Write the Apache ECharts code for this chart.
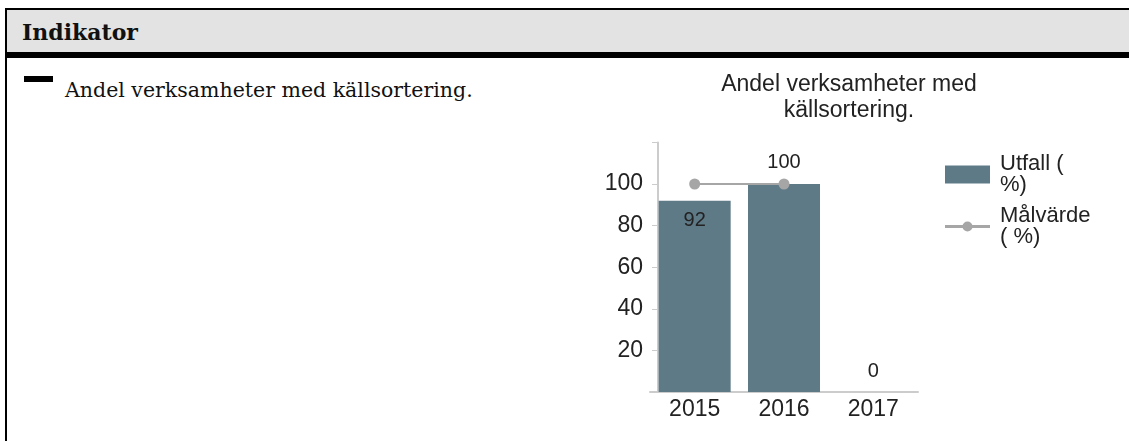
<!DOCTYPE html>
<html>
<head>
<meta charset="utf-8">
<script src="https://cdn.jsdelivr.net/npm/echarts@6/dist/echarts.min.js"></script>
<style>
  html, body { margin: 0; padding: 0; background: #fff; width: 1129px; height: 441px; overflow: hidden; }
  .frame-top { position: absolute; left: 5px; top: 8px; width: 1124px; height: 2px; background: #000; }
  .frame-left { position: absolute; left: 5px; top: 8px; width: 2px; height: 433px; background: #000; }
  .head { position: absolute; left: 7px; top: 10px; width: 1122px; height: 42px; background: #e3e3e3; }
  .head-rule { position: absolute; left: 5px; top: 52px; width: 1124px; height: 6px; background: #000; }
  .head-text { position: absolute; left: 22px; top: 18px; font: bold 22px Georgia, "DejaVu Serif", serif; color: #111; line-height: 28px; }
  .dash { position: absolute; left: 24px; top: 76px; width: 29px; height: 6px; background: #000; }
  .ind-text { position: absolute; left: 65px; top: 77px; font: 20.5px Georgia, "DejaVu Serif", serif; color: #111; line-height: 26px; white-space: nowrap; }
  #chart { position: absolute; left: 0; top: 0; width: 1129px; height: 441px; }
</style>
</head>
<body>
<div class="frame-top"></div>
<div class="frame-left"></div>
<div class="head"></div>
<div class="head-rule"></div>
<div class="head-text">Indikator</div>
<div class="dash"></div>
<div class="ind-text">Andel verksamheter med källsortering.</div>
<div id="chart"></div>
<script>
// Indicator data
const chartTitle = 'Andel verksamheter med\nkällsortering.';
const years = ['2015', '2016', '2017'];
const utfall = [92, 100, 0];          // Utfall (%)
const malvarde = [100, 100, '-'];     // Målvärde (%)
const seriesNames = ['Utfall ( %)', 'Målvärde ( %)'];
const legendLabels = { 'Utfall ( %)': 'Utfall (\n%)', 'Målvärde ( %)': 'Målvärde\n( %)' };

const FONT = '"Liberation Sans", Arial, sans-serif';
const barColor = '#5f7a87';
const lineColor = '#a6a6a6';
const textColor = '#222';

// legend glyph for the target line: stroke with a dot in the middle
const lineIcon = 'path://M0,7.5L45,7.5L45,10.5L0,10.5Z M17.5,9A5,5 0 1,1 27.5,9A5,5 0 1,1 17.5,9Z';

// per-bar label placement
const barLabelPos = [
  { position: 'insideTop', distance: 10 },
  { position: 'top', distance: 12 },
  { position: 'top', distance: 11 }
];

const chart = echarts.init(document.getElementById('chart'), null, { renderer: 'canvas' });

chart.setOption({
  backgroundColor: 'transparent',
  animation: false,
  graphic: [{
    type: 'text',
    x: 849,
    y: 98,
    style: {
      text: chartTitle,
      textAlign: 'center',
      textVerticalAlign: 'middle',
      fontFamily: FONT,
      fontSize: 23,
      lineHeight: 26,
      fill: textColor
    }
  }],
  legend: {
    orient: 'vertical',
    left: 940,
    top: 148,
    itemWidth: 45,
    itemHeight: 18,
    itemGap: 9,
    symbolKeepAspect: true,
    data: [
      { name: seriesNames[0], icon: 'rect' },
      { name: seriesNames[1], icon: lineIcon }
    ],
    formatter: name => legendLabels[name] || name,
    textStyle: {
      fontFamily: FONT,
      fontSize: 22,
      lineHeight: 21,
      color: textColor,
      padding: [0, 0, 0, 5]
    }
  },
  grid: {
    left: 650,
    right: 211,
    top: 142.4,
    bottom: 49,
    containLabel: false
  },
  xAxis: {
    type: 'category',
    data: years,
    axisLine: { lineStyle: { color: '#cccccc', width: 2 } },
    axisTick: { show: false },
    axisLabel: { fontFamily: FONT, fontSize: 23, color: textColor, margin: 6 }
  },
  yAxis: {
    type: 'value',
    min: 0,
    max: 120,
    interval: 20,
    offset: -8,
    axisLine: { show: true, lineStyle: { color: '#cccccc', width: 2 } },
    axisTick: { show: true, length: 6, lineStyle: { color: '#cccccc', width: 1 } },
    splitLine: { show: false },
    axisLabel: {
      fontFamily: FONT,
      fontSize: 23,
      color: textColor,
      margin: 15,
      formatter: v => (v === 0 || v === 120) ? '' : String(v)
    }
  },
  series: [
    {
      name: seriesNames[0],
      type: 'bar',
      barWidth: 72,
      itemStyle: { color: barColor },
      data: utfall.map((v, i) => ({
        value: v,
        label: {
          show: true,
          position: barLabelPos[i].position,
          distance: barLabelPos[i].distance,
          fontFamily: FONT,
          fontSize: 20,
          color: textColor
        }
      }))
    },
    {
      name: seriesNames[1],
      type: 'line',
      data: malvarde,
      symbol: 'circle',
      symbolSize: 11,
      lineStyle: { color: lineColor, width: 2 },
      itemStyle: { color: lineColor },
      z: 3
    }
  ]
});
</script>
</body>
</html>
